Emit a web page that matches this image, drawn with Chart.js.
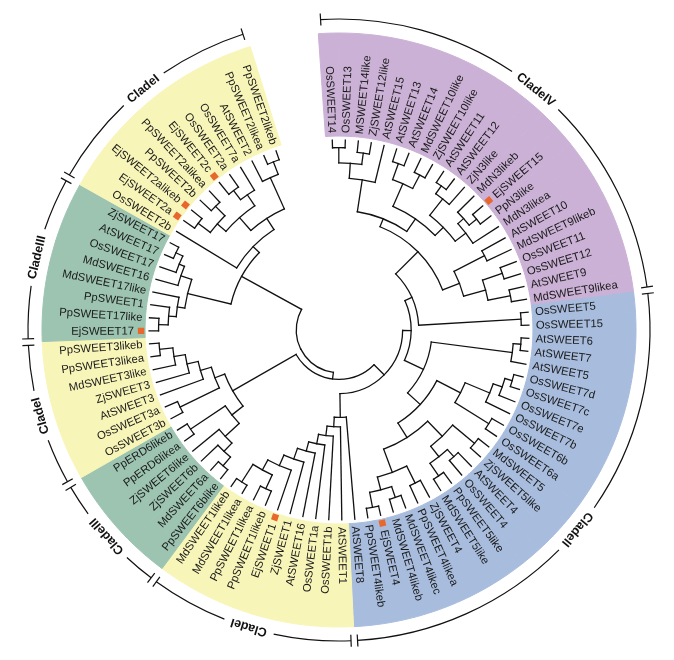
<!DOCTYPE html>
<html><head><meta charset="utf-8">
<script src="https://cdn.jsdelivr.net/npm/chart.js@4.4.1/dist/chart.umd.min.js"></script>
<style>html,body{margin:0;padding:0;background:#fff}#wrap{width:674px;height:660px}</style>
</head><body><div id="wrap"><canvas id="c" width="674" height="660"></canvas></div>
<script>
// ---- leaves per clade, clockwise from the top ----
const cladeIV = ['OsSWEET14','OsSWEET13','MSWEET14like','ZjSWEET12like','AtSWEET15','AtSWEET13','AtSWEET14','MdSWEET10like','ZjSWEET10like','AtSWEET11','AtSWEET12','ZjN3like','MdN3likeb','EjSWEET15','PpN3like','MdN3likea','AtSWEET10','MdSWEET9likeb','OsSWEET11','OsSWEET12','AtSWEET9','MdSWEET9likea'];
const cladeII = ['OsSWEET5','OsSWEET15','AtSWEET6','AtSWEET7','AtSWEET5','OsSWEET7d','OsSWEET7c','OsSWEET7e','OsSWEET7b','OsSWEET6b','OsSWEET6a','MdSWEET5','ZjSWEET5like','AtSWEET4','OsSWEET4','PpSWEET5like','MdSWEET5like','ZjSWEET4','PpSWEET4likea','MdSWEET4likec','MdSWEET4likeb','EjSWEET4','PpSWEET4likeb','AtSWEET8'];
const cladeI_a = ['AtSWEET1','OsSWEET1b','OsSWEET1a','AtSWEET16','ZjSWEET1','EjSWEET1','PpSWEET1likeb','PpSWEET1likea','MdSWEET1likea','MdSWEET1likeb'];
const cladeIII_a = ['PpSWEET6blike','MdSWEET6a','ZjSWEET6b','ZjSWEET6like','PpERD6likea','PpERD6likeb'];
const cladeI_b = ['OsSWEET3b','OsSWEET3a','AtSWEET3','ZjSWEET3','MdSWEET3like','PpSWEET3likea','PpSWEET3likeb'];
const cladeIII_b = ['EjSWEET17','PpSWEET17like','PpSWEET1','MdSWEET17like','MdSWEET16','OsSWEET17','AtSWEET17','ZjSWEET17'];
const cladeI_c = ['OsSWEET2b','EjSWEET2a','EjSWEET2alikeb','PpSWEET2b','PpSWEET2alikea','EjSWEET2c','OsSWEET2a','OsSWEET7a','AtSWEET2','PpSWEET2likea','PpSWEET2likeb'];

const cladeGroups = [cladeIV, cladeII, cladeI_a, cladeIII_a, cladeI_b, cladeIII_b, cladeI_c];
const cladeLabels = ['CladeIV','CladeII','CladeI','CladeIII','CladeI','CladeIII','CladeI'];
const cladeColors = ['#CBB1D6','#A8BCDD','#F8F5B9','#9CC4B1','#F8F5B9','#9CC4B1','#F8F5B9'];
const markedLeaves = ['EjSWEET15','EjSWEET4','EjSWEET1','EjSWEET17','EjSWEET2a','EjSWEET2alikeb','EjSWEET2c'];
const gapWidth = 3.4;   // empty sector at the top, in leaf units

// ---- tree topology; number after ')' = node depth (leaf tips = 1) ----
const treeNewick =
 '((((' +
   '(((((((OsSWEET14,OsSWEET13)0.96,(MSWEET14like,ZjSWEET12like)0.94)0.88,AtSWEET15)0.8,' +
   '(((AtSWEET13,AtSWEET14)0.93,(MdSWEET10like,ZjSWEET10like)0.92)0.84,' +
   '(((AtSWEET11,AtSWEET12)0.93,ZjN3like)0.88,((MdN3likeb,(EjSWEET15,PpN3like)0.93)0.88,MdN3likea)0.84)0.77)0.71)0.63,' +
   '((AtSWEET10,MdSWEET9likeb)0.86,((OsSWEET11,OsSWEET12)0.91,(AtSWEET9,MdSWEET9likea)0.92)0.8)0.68)0.585,' +
   '(OsSWEET5,OsSWEET15)0.96)0.42,' +
  '(((AtSWEET6,AtSWEET7)0.96,AtSWEET5)0.92,' +
   '(((((OsSWEET7d,OsSWEET7c)0.95,OsSWEET7e)0.91,OsSWEET7b)0.86,(OsSWEET6b,OsSWEET6a)0.93)0.72,' +
   '(((MdSWEET5,ZjSWEET5like)0.93,((AtSWEET4,OsSWEET4)0.9,(PpSWEET5like,MdSWEET5like)0.93)0.85)0.78,' +
   '((ZjSWEET4,PpSWEET4likea)0.9,((MdSWEET4likec,MdSWEET4likeb)0.93,(EjSWEET4,PpSWEET4likeb)0.95)0.87)0.8)0.67)0.58)0.49)0.38,' +
  '(AtSWEET8,(AtSWEET1,(OsSWEET1b,(OsSWEET1a,(AtSWEET16,(ZjSWEET1,(EjSWEET1,((PpSWEET1likeb,PpSWEET1likea)0.92,(MdSWEET1likea,MdSWEET1likeb)0.95)0.84)0.78)0.72)0.66)0.61)0.56)0.51)0.46)0.335,' +
 '(((((PpSWEET6blike,MdSWEET6a)0.94,ZjSWEET6b)0.88,ZjSWEET6like)0.82,(PpERD6likea,PpERD6likeb)0.94)0.72,' +
  '((OsSWEET3b,OsSWEET3a)0.93,(AtSWEET3,(ZjSWEET3,(MdSWEET3like,(PpSWEET3likea,PpSWEET3likeb)0.95)0.88)0.82)0.76)0.7)0.645)0.26,' +
 '(((((EjSWEET17,PpSWEET17like)0.95,PpSWEET1)0.9,MdSWEET17like)0.86,(MdSWEET16,(OsSWEET17,(AtSWEET17,ZjSWEET17)0.95)0.91)0.88)0.82,' +
  '(OsSWEET2b,((((EjSWEET2a,EjSWEET2alikeb)0.93,(PpSWEET2b,PpSWEET2alikea)0.92)0.85,((EjSWEET2c,OsSWEET2a)0.92,OsSWEET7a)0.86)0.79,' +
  '(AtSWEET2,(PpSWEET2likea,PpSWEET2likeb)0.95)0.88)0.7)0.63)0.585)0.225';

function parseTree(s) {
  s = s.replace(/\s+/g, '');
  let i = 0;
  function node() {
    if (s[i] === '(') {
      i++;
      const kids = [node()];
      while (s[i] === ',') { i++; kids.push(node()); }
      i++;
      let num = '';
      while (i < s.length && /[0-9.]/.test(s[i])) num += s[i++];
      return { kids, depth: parseFloat(num) };
    }
    let name = '';
    while (i < s.length && /[A-Za-z0-9_]/.test(s[i])) name += s[i++];
    return { name };
  }
  return node();
}
const tree = parseTree(treeNewick);

const leafNames = [].concat(...cladeGroups);
const leafClade = [];
cladeGroups.forEach((g, k) => g.forEach(() => leafClade.push(k)));

const ringLabels = leafNames.concat(['']);
const ringValues = leafNames.map(() => 1).concat([gapWidth]);
const ringColors = leafClade.map(k => cladeColors[k]).concat(['rgba(0,0,0,0)']);

const FONT = '"Liberation Sans", Arial, Helvetica, sans-serif';

const treePlugin = {
  id: 'treePlugin',
  afterDatasetsDraw(chart) {
    const ctx = chart.ctx;
    const arcs = chart.getDatasetMeta(0).data;
    const cx = arcs[0].x, cy = arcs[0].y;
    const inner = arcs[0].innerRadius;
    const rTip = inner - 4;
    const ang = {};
    leafNames.forEach((n, i) => { ang[n] = (arcs[i].startAngle + arcs[i].endAngle) / 2; });

    // ---- tree ----
    function lay(nd) {
      if (nd.name !== undefined) { nd.a = ang[nd.name]; nd.r = rTip; return; }
      nd.kids.forEach(lay);
      nd.a = (nd.kids[0].a + nd.kids[nd.kids.length - 1].a) / 2;
      nd.r = nd.depth * rTip;
    }
    lay(tree);
    ctx.save();
    ctx.strokeStyle = '#111';
    ctx.lineWidth = 1.3;
    ctx.lineCap = 'square';
    function drawNode(nd) {
      if (!nd.kids) return;
      const a1 = nd.kids[0].a, a2 = nd.kids[nd.kids.length - 1].a;
      ctx.beginPath();
      ctx.arc(cx, cy, nd.r, a1, a2, false);
      ctx.stroke();
      nd.kids.forEach(k => {
        ctx.beginPath();
        ctx.moveTo(cx + nd.r * Math.cos(k.a), cy + nd.r * Math.sin(k.a));
        ctx.lineTo(cx + k.r * Math.cos(k.a), cy + k.r * Math.sin(k.a));
        ctx.stroke();
        drawNode(k);
      });
    }
    drawNode(tree);
    ctx.restore();

    // ---- leaf labels + markers ----
    ctx.save();
    ctx.font = '11.3px ' + FONT;
    ctx.fillStyle = '#1a1a1a';
    ctx.textBaseline = 'middle';
    leafNames.forEach((n, i) => {
      const a = ang[n];
      let deg = (a * 180 / Math.PI + 90) % 360; if (deg < 0) deg += 360;
      const marked = markedLeaves.includes(n);
      const rs = inner + (marked ? 11 : 3);
      ctx.save();
      ctx.translate(cx, cy);
      if (deg < 180) {
        ctx.rotate(a); ctx.textAlign = 'left'; ctx.fillText(n, rs, 0.5);
      } else {
        ctx.rotate(a + Math.PI); ctx.textAlign = 'right'; ctx.fillText(n, -rs, 0.5);
      }
      ctx.restore();
      if (marked) {
        const rm = inner + 4;
        ctx.save();
        ctx.translate(cx + rm * Math.cos(a), cy + rm * Math.sin(a));
        ctx.rotate(a);
        ctx.fillStyle = '#E8672C';
        ctx.fillRect(-3.2, -3.2, 6.4, 6.4);
        ctx.restore();
      }
    });
    ctx.restore();

    // ---- clade brackets ----
    const RB = arcs[0].outerRadius + 14;
    const pad = 0.6 * Math.PI / 180;
    ctx.save();
    ctx.strokeStyle = '#111';
    ctx.lineWidth = 1.2;
    ctx.font = 'bold 12.5px ' + FONT;
    ctx.fillStyle = '#111';
    ctx.textAlign = 'center';
    ctx.textBaseline = 'middle';
    let idx = 0;
    cladeGroups.forEach((g, k) => {
      const s = arcs[idx].startAngle + pad;
      const e = arcs[idx + g.length - 1].endAngle - pad;
      idx += g.length;
      const m = (s + e) / 2;
      const w = ctx.measureText(cladeLabels[k]).width;
      const half = (w / 2 + 7) / RB;
      ctx.beginPath(); ctx.arc(cx, cy, RB, s, m - half); ctx.stroke();
      ctx.beginPath(); ctx.arc(cx, cy, RB, m + half, e); ctx.stroke();
      [s, e].forEach(t => {
        ctx.beginPath();
        ctx.moveTo(cx + (RB - 6) * Math.cos(t), cy + (RB - 6) * Math.sin(t));
        ctx.lineTo(cx + (RB + 6) * Math.cos(t), cy + (RB + 6) * Math.sin(t));
        ctx.stroke();
      });
      ctx.save();
      ctx.translate(cx + RB * Math.cos(m), cy + RB * Math.sin(m));
      ctx.rotate(m + Math.PI / 2);
      ctx.fillText(cladeLabels[k], 0, 0.5);
      ctx.restore();
    });
    ctx.restore();
  }
};

new Chart(document.getElementById('c'), {
  type: 'doughnut',
  data: {
    labels: ringLabels,
    datasets: [{
      data: ringValues,
      backgroundColor: ringColors,
      borderColor: ringColors,
      borderWidth: 1,
      radius: 297,
      cutout: '65.3%'
    }]
  },
  options: {
    responsive: false,
    animation: false,
    rotation: -4,
    layout: { padding: { left: 4, right: 0, top: 0, bottom: 0 } },
    plugins: { legend: { display: false }, tooltip: { enabled: false } },
    events: []
  },
  plugins: [treePlugin]
});
</script>
</body></html>
